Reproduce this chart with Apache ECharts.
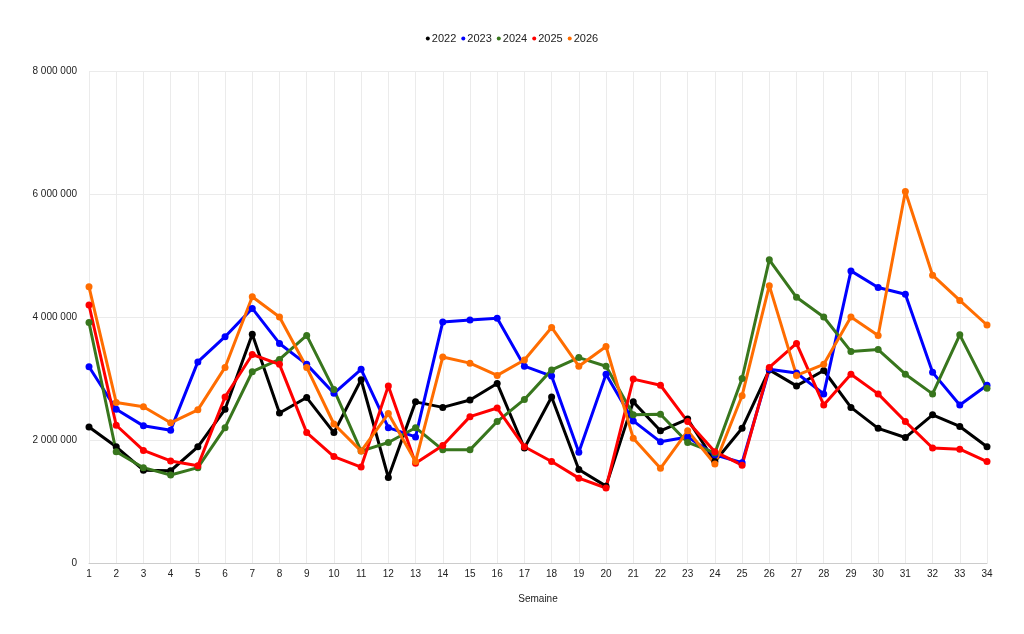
<!DOCTYPE html>
<html>
<head>
<meta charset="utf-8">
<script src="https://cdn.jsdelivr.net/npm/echarts@6/dist/echarts.min.js"></script>
<style>
html,body{margin:0;padding:0;background:#fff;}
#chart{width:1024px;height:634px;}
</style>
</head>
<body>
<div id="chart"></div>
<script>
const weeks = ['1','2','3','4','5','6','7','8','9','10','11','12','13','14','15','16','17','18','19','20','21','22','23','24','25','26','27','28','29','30','31','32','33','34'];
const s2022 = [2210000,1890000,1510000,1500000,1890000,2500000,3720000,2440000,2690000,2120000,2980000,1390000,2620000,2530000,2650000,2920000,1870000,2700000,1520000,1250000,2620000,2150000,2340000,1650000,2190000,3140000,2880000,3130000,2530000,2190000,2040000,2410000,2220000,1890000];
const s2023 = [3190000,2500000,2230000,2160000,3270000,3680000,4140000,3570000,3230000,2760000,3150000,2200000,2050000,3920000,3950000,3980000,3200000,3040000,1800000,3070000,2310000,1970000,2050000,1760000,1630000,3150000,3090000,2750000,4750000,4480000,4370000,3100000,2570000,2890000];
const s2024 = [3910000,1810000,1550000,1430000,1550000,2200000,3110000,3310000,3700000,2820000,1820000,1960000,2200000,1840000,1840000,2300000,2660000,3140000,3340000,3200000,2410000,2420000,1960000,1790000,3000000,4930000,4320000,4000000,3440000,3470000,3070000,2750000,3710000,2840000];
const s2025 = [4195000,2240000,1830000,1660000,1580000,2700000,3390000,3230000,2120000,1730000,1560000,2880000,1620000,1910000,2380000,2520000,1890000,1650000,1380000,1220000,2990000,2890000,2300000,1810000,1590000,3180000,3570000,2570000,3070000,2750000,2300000,1870000,1850000,1650000];
const s2026 = [4490000,2610000,2540000,2280000,2490000,3180000,4330000,4000000,3180000,2260000,1820000,2430000,1650000,3350000,3250000,3050000,3300000,3830000,3200000,3520000,2030000,1540000,2150000,1610000,2720000,4510000,3050000,3230000,4000000,3700000,6040000,4680000,4270000,3870000];
const seriesNames = ['2022','2023','2024','2025','2026'];
const seriesData = [s2022,s2023,s2024,s2025,s2026];
const colors = ['#000000','#0000ff','#38761d','#ff0000','#ff6d01'];

const chart = echarts.init(document.getElementById('chart'));
function fmt(v){return String(v).replace(/\B(?=(\d{3})+(?!\d))/g,' ');}
chart.setOption({
  animation:false,
  backgroundColor:'#ffffff',
  textStyle:{fontFamily:'Liberation Sans, Arial, sans-serif'},
  legend:{
    top:28, left:'center',
    icon:'circle', itemWidth:4, itemHeight:4, itemGap:5,
    textStyle:{fontSize:11,color:'#222',padding:[0,0,0,-3]},
    data:seriesNames
  },
  grid:{left:89,right:37,top:71,bottom:71,containLabel:false},
  xAxis:{
    type:'category', data:weeks, boundaryGap:false,
    name:'Semaine', nameLocation:'middle', nameGap:31,
    nameTextStyle:{fontSize:10,color:'#222'},
    axisLine:{show:true,lineStyle:{color:'#cccccc',width:1}},
    axisTick:{show:false},
    axisLabel:{fontSize:10,color:'#222',margin:6,interval:0},
    splitLine:{show:true,lineStyle:{color:'#ebebeb',width:1}}
  },
  yAxis:{
    type:'value', min:0, max:8000000, interval:2000000,
    axisLine:{show:false}, axisTick:{show:false},
    axisLabel:{fontSize:10,color:'#222',margin:12,formatter:fmt},
    splitLine:{lineStyle:{color:'#ebebeb',width:1}}
  },
  series: seriesNames.map((n,i)=>({
    name:n, type:'line', data:seriesData[i],
    symbol:'circle', symbolSize:7,
    lineStyle:{width:3,color:colors[i]},
    itemStyle:{color:colors[i]},
    emphasis:{disabled:true}
  }))
});
</script>
</body>
</html>
